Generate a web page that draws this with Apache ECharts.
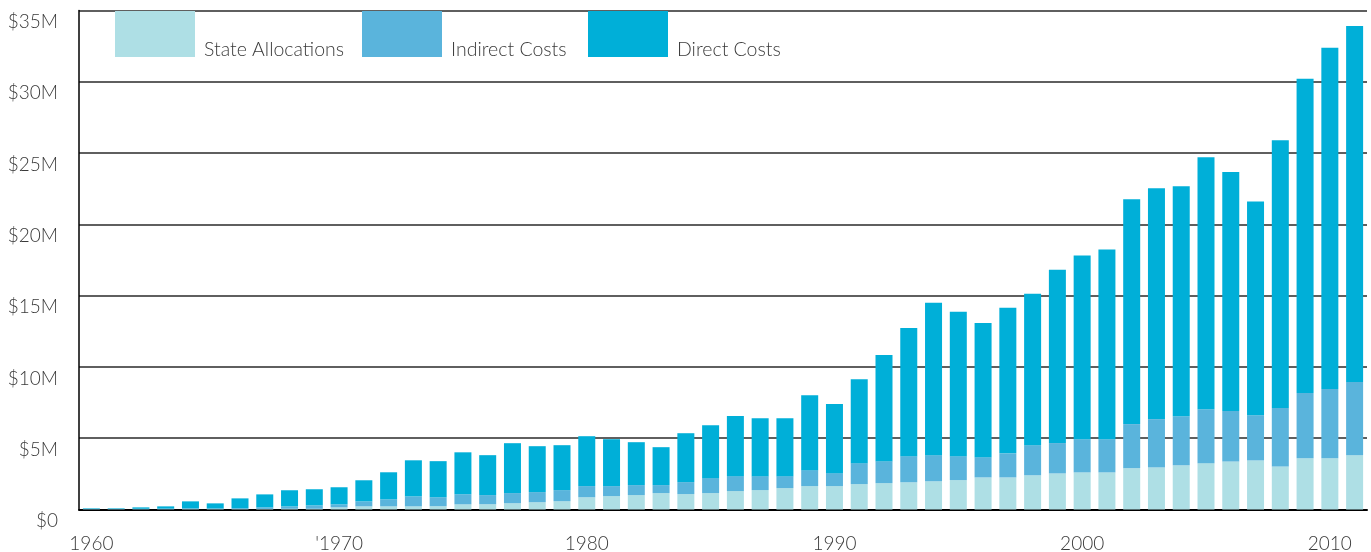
<!DOCTYPE html>
<html>
<head>
<meta charset="utf-8">
<script src="https://cdn.jsdelivr.net/npm/echarts@6/dist/echarts.min.js"></script>
<style>
html,body{margin:0;padding:0;background:#fff;}
#chart{width:1371px;height:552px;}
</style>
</head>
<body>
<div id="chart"></div>
<script>
// Years 1960..2011
const years = [];
for (let y = 1960; y <= 2011; y++) years.push(String(y));

// Labels shown at decades
const tickLabels = ['1960', "'1970", '1980', '1990', '2000', '2010'];

// Values in millions of dollars (segment values)
const stateAllocations = [
  0.02, 0.02, 0.02, 0.02, 0.03, 0.03, 0.03, 0.04, 0.05, 0.05,
  0.15, 0.22, 0.22, 0.22, 0.23, 0.36, 0.37, 0.44, 0.51, 0.58,
  0.86, 0.94, 1.01, 1.15, 1.08, 1.15, 1.29, 1.36, 1.50, 1.64,
  1.64, 1.78, 1.85, 1.91, 1.98, 2.06, 2.25, 2.25, 2.40, 2.53,
  2.60, 2.60, 2.90, 2.95, 3.10, 3.25, 3.37, 3.44, 3.02, 3.59,
  3.59, 3.81
];
const indirectCosts = [
  0.02, 0.02, 0.03, 0.04, 0.05, 0.04, 0.06, 0.11, 0.17, 0.24,
  0.21, 0.35, 0.49, 0.70, 0.63, 0.71, 0.64, 0.71, 0.71, 0.78,
  0.78, 0.70, 0.70, 0.56, 0.84, 1.05, 1.05, 0.98, 0.84, 1.12,
  0.91, 1.47, 1.54, 1.83, 1.83, 1.68, 1.42, 1.69, 2.11, 2.13,
  2.33, 2.33, 3.09, 3.39, 3.44, 3.78, 3.54, 3.17, 4.09, 4.58,
  4.86, 5.13
];
const directCosts = [
  0.04, 0.04, 0.10, 0.16, 0.49, 0.36, 0.69, 0.91, 1.13, 1.13,
  1.20, 1.48, 1.90, 2.53, 2.53, 2.94, 2.80, 3.50, 3.22, 3.15,
  3.50, 3.29, 3.01, 2.66, 3.43, 3.71, 4.21, 4.06, 4.06, 5.26,
  4.84, 5.89, 7.44, 8.99, 10.68, 10.13, 9.41, 10.20, 10.62, 12.16,
  12.88, 13.30, 15.76, 16.18, 16.13, 17.67, 16.75, 14.99, 18.78, 22.03,
  23.93, 24.97
];

const seriesNames = ['State Allocations', 'Indirect Costs', 'Direct Costs'];
const colors = ['#aedfe5', '#5ab4dc', '#00afd8'];

const FONT = 'Lato, "Open Sans", sans-serif';
const TEXT_COLOR = '#3a3a3a';

function legendFor(name, left) {
  return {
    data: [name],
    left: left,
    top: 2,
    itemWidth: 80,
    itemHeight: 46,
    icon: 'rect',
    padding: 0,
    selectedMode: false,
    formatter: function (n) { return '\n' + n; },
    textStyle: {
      fontFamily: FONT,
      fontSize: 19.5,
      fontWeight: 300,
      color: TEXT_COLOR,
      lineHeight: 32,
      padding: [0, 0, 0, 4]
    }
  };
}

const chart = echarts.init(document.getElementById('chart'));
chart.setOption({
  animation: false,
  backgroundColor: '#fff',
  legend: [
    legendFor(seriesNames[0], 115),
    legendFor(seriesNames[1], 362),
    legendFor(seriesNames[2], 588)
  ],
  grid: { left: 79, right: 4, top: 10.4, bottom: 42.5, outerBoundsMode: 'none', containLabel: false },
  xAxis: {
    type: 'category',
    data: years,
    boundaryGap: true,
    axisLine: { show: true, lineStyle: { color: '#000', width: 2 } },
    axisTick: { show: false },
    axisLabel: {
      interval: function (i) { return i % 10 === 0; },
      formatter: function (v, i) { return tickLabels[Math.round(i / 10)]; },
      fontFamily: FONT,
      fontSize: 19,
      fontWeight: 300,
      color: TEXT_COLOR,
      margin: 25
    },
    splitLine: { show: false }
  },
  yAxis: {
    type: 'value',
    min: 0,
    max: 35,
    interval: 5,
    axisLine: { show: true, lineStyle: { color: '#000', width: 1.5 } },
    axisTick: { show: false },
    axisLabel: {
      formatter: function (v) { return v === 0 ? '$0' : '$' + v + 'M'; },
      fontFamily: FONT,
      fontSize: 19,
      fontWeight: 300,
      color: TEXT_COLOR,
      margin: 21,
      verticalAlign: 'top',
      padding: [2, 0, 0, 0]
    },
    splitLine: { show: true, lineStyle: { color: '#2a2a2a', width: 1.5 } }
  },
  series: [
    { name: seriesNames[0], type: 'bar', stack: 'total', data: stateAllocations, barWidth: 17, itemStyle: { color: colors[0] } },
    { name: seriesNames[1], type: 'bar', stack: 'total', data: indirectCosts, barWidth: 17, itemStyle: { color: colors[1] } },
    { name: seriesNames[2], type: 'bar', stack: 'total', data: directCosts, barWidth: 17, itemStyle: { color: colors[2] } }
  ]
});
</script>
</body>
</html>
